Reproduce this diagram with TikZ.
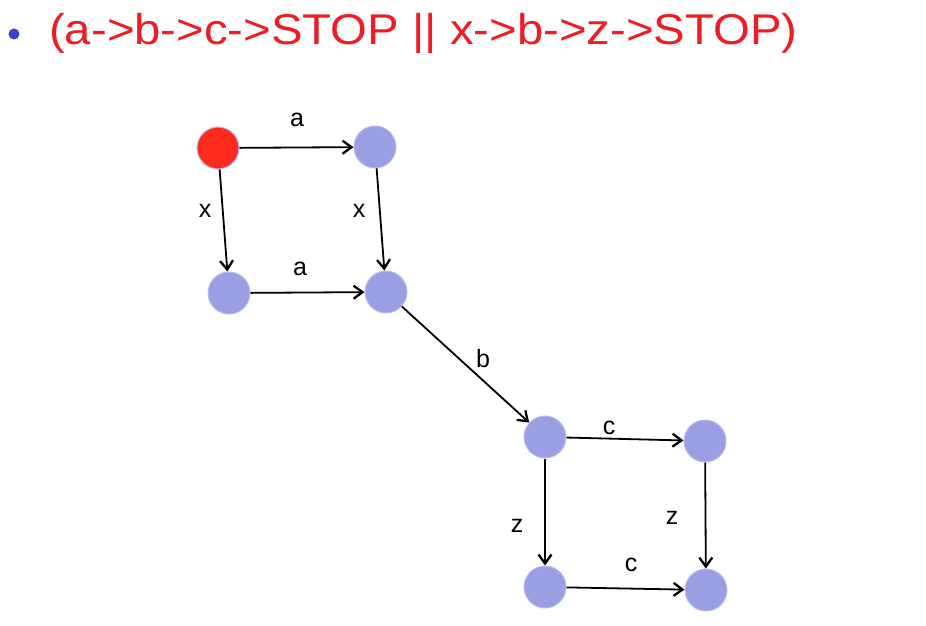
\documentclass[tikz,border=0pt]{standalone}
\usepackage{fontspec}
\setmainfont{Liberation Sans}
\usetikzlibrary{arrows.meta}
\definecolor{stateBlue}{HTML}{9A9EE3}
\definecolor{stateRim}{HTML}{B9BCF0}
\definecolor{startRed}{HTML}{FF2A1E}
\definecolor{titleRed}{HTML}{EE1C24}
\definecolor{bulletBlue}{HTML}{3A3FC8}

\begin{document}
\begin{tikzpicture}[
  x=1pt, y=-1pt,
  state/.style={circle, fill=stateBlue, draw=stateRim, line width=1pt,
                minimum size=42pt, inner sep=0pt},
  start/.style={state, fill=startRed},
  lbl/.style={font=\fontsize{25}{27}\selectfont, inner sep=0pt},
  arr/.style={-{Straight Barb[length=9pt,width=13pt,line width=2.3pt]},
              line width=1.8pt, black}
]
\useasboundingbox (0,0) rectangle (926,626);
% title line
\node[circle, fill=bulletBlue, minimum size=11pt, inner sep=0pt] (bullet) at (14,34) {};
\node[anchor=base west, text=titleRed, inner sep=0pt,
      font=\fontsize{43}{46}\selectfont] (title) at (49,45)
  {\scalebox{1.1}[1]{(a->b->c->STOP || x->b->z->STOP)}};
% first square
\node[start] (s0) at (218,148) {};
\node[state] (s1) at (375,147) {};
\node[state] (s2) at (229,293) {};
\node[state] (s3) at (386,292) {};
% second square
\node[state] (s4) at (545,437) {};
\node[state] (s5) at (705,441) {};
\node[state] (s6) at (545,587) {};
\node[state] (s7) at (706,590) {};
% transitions
\draw[arr] (s0) -- (s1);
\draw[arr] (s0) -- (s2);
\draw[arr] (s1) -- (s3);
\draw[arr] (s2) -- (s3);
\draw[arr] (s3) -- (s4);
\draw[arr] (s4) -- (s5);
\draw[arr] (s4) -- (s6);
\draw[arr] (s5) -- (s7);
\draw[arr] (s6) -- (s7);
% labels
\node[lbl] (la1) at (297,120) {a};
\node[lbl] (lx1) at (205,211) {x};
\node[lbl] (lx2) at (359,211) {x};
\node[lbl] (la2) at (300,269) {a};
\node[lbl] (lb)  at (483,359) {b};
\node[lbl] (lc1) at (609,428) {c};
\node[lbl] (lz1) at (517,526) {z};
\node[lbl] (lz2) at (672,518) {z};
\node[lbl] (lc2) at (631,565) {c};
\end{tikzpicture}
\end{document}
